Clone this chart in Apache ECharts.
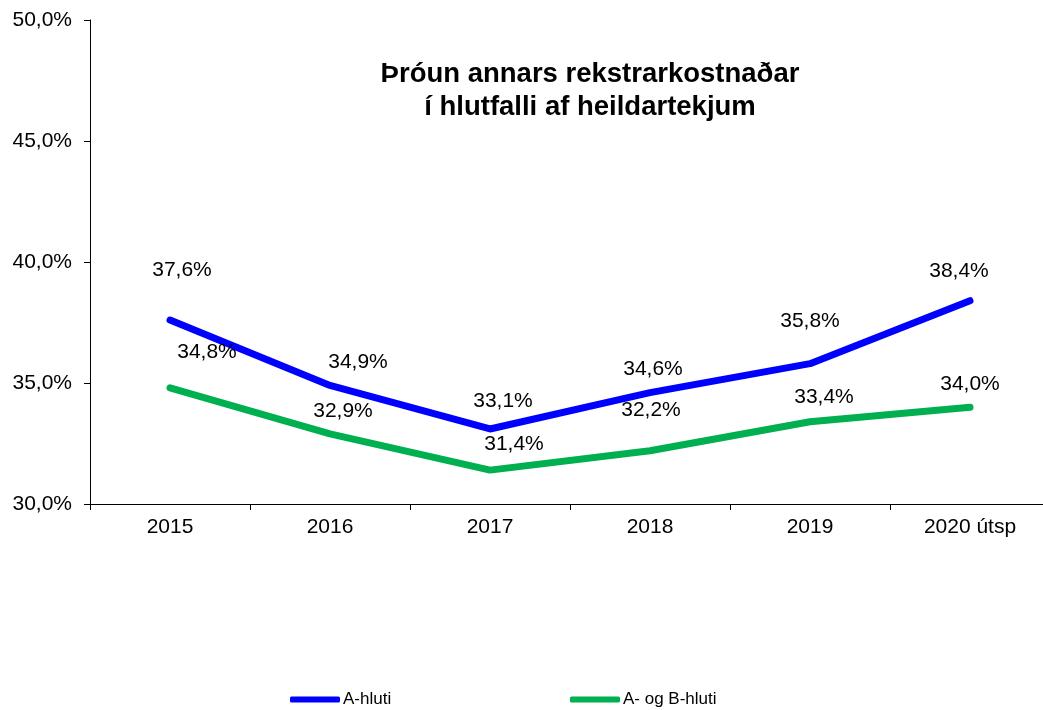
<!DOCTYPE html>
<html><head><meta charset="utf-8">
<script src="https://cdn.jsdelivr.net/npm/echarts@6/dist/echarts.min.js"></script>
<style>html,body{margin:0;padding:0;background:#fff;overflow:hidden;width:1043px;height:710px}#c{width:1050px;height:710px}</style>
</head><body><div id="c"></div>
<script>
const categories = ['2015','2016','2017','2018','2019','2020 útsp'];
const aHluti = [37.6, 34.9, 33.1, 34.6, 35.8, 38.4];
const abHluti = [34.8, 32.9, 31.4, 32.2, 33.4, 34.0];
const yTicks = [30, 35, 40, 45, 50];
const seriesNames = ['A-hluti', 'A- og B-hluti'];
// label offsets (placement only)
const aOffsets = [[12,-50],[28,-23],[13,-28],[3,-23],[0,-42],[-11,-30]];
const abOffsets = [[37,-36],[13,-23],[24,-26],[1,-41],[14,-25],[0,-23]];

const font = 'Liberation Sans, Arial, sans-serif';
function fmt(v){ return v.toFixed(1).replace('.', ',') + '%'; }
function mkData(vals, offs){
  return vals.map((v,i)=>({value:v, label:{offset:offs[i]}}));
}
const chart = echarts.init(document.getElementById('c'), null, {renderer:'canvas'});
chart.setOption({
  animation:false,
  backgroundColor:'#fff',
  title:{
    text:'Þróun annars rekstrarkostnaðar\ní hlutfalli af heildartekjum',
    left:590, top:58, textAlign:'center', padding:0,
    textStyle:{fontFamily:font, fontSize:27.5, fontWeight:'bold', color:'#000', lineHeight:33}
  },
  legend:[
    {data:[seriesNames[0]], left:290, top:691, padding:0, icon:'roundRect', itemWidth:50, itemHeight:6,
     textStyle:{fontFamily:font, fontSize:17, color:'#000', padding:[0,0,0,-2]}},
    {data:[seriesNames[1]], left:570, top:691, padding:0, icon:'roundRect', itemWidth:50, itemHeight:6,
     textStyle:{fontFamily:font, fontSize:17, color:'#000', padding:[0,0,0,-2]}}
  ],
  grid:{left:90, top:20, right:0, height:484, containLabel:false},
  xAxis:{
    type:'category', data:categories, boundaryGap:true,
    axisLine:{lineStyle:{color:'#000', width:1}},
    axisTick:{show:true, length:6, lineStyle:{color:'#000'}},
    axisLabel:{fontFamily:font, fontSize:21, color:'#000', margin:13},
    splitLine:{show:false}
  },
  yAxis:{
    type:'value', min:30, max:50, interval:5,
    axisLine:{show:true, lineStyle:{color:'#000', width:1}},
    axisTick:{show:true, length:6, lineStyle:{color:'#000'}},
    axisLabel:{fontFamily:font, fontSize:21, color:'#000', margin:18,
      formatter:v=> yTicks.includes(v) ? v.toFixed(1).replace('.', ',')+'%' : ''},
    splitLine:{show:false}
  },
  series:[
    {name:seriesNames[0], type:'line', data:mkData(aHluti,aOffsets), symbol:'circle', symbolSize:0, showSymbol:true, color:'#0000FF',
     lineStyle:{width:7, color:'#0000FF', cap:'round', join:'round'},
     label:{show:true, position:'inside', fontFamily:font, fontSize:21, color:'#000',
       formatter:p=>fmt(p.value)}},
    {name:seriesNames[1], type:'line', data:mkData(abHluti,abOffsets), symbol:'circle', symbolSize:0, showSymbol:true, color:'#00B050',
     lineStyle:{width:7, color:'#00B050', cap:'round', join:'round'},
     label:{show:true, position:'inside', fontFamily:font, fontSize:21, color:'#000',
       formatter:p=>fmt(p.value)}}
  ]
});
</script></body></html>
